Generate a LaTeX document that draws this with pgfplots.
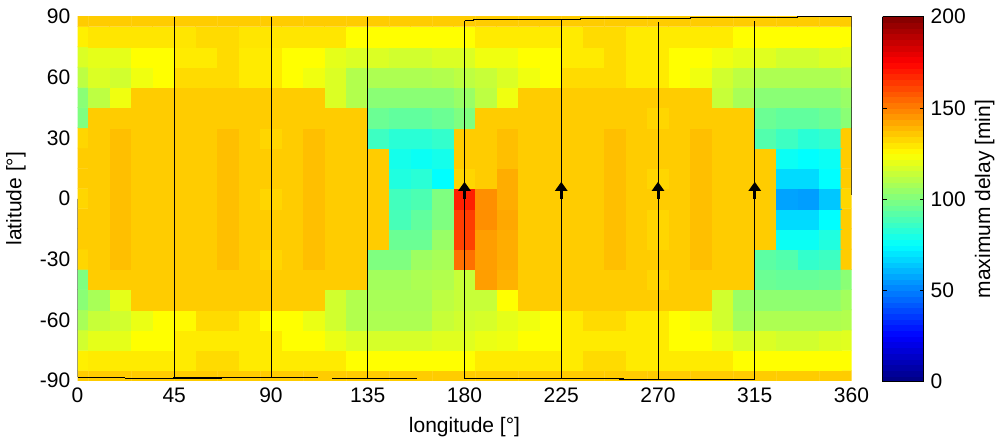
\documentclass[border=0pt]{standalone}
\usepackage{pgfplots}
\pgfplotsset{compat=1.18}
\usepackage{fontspec}
\setmainfont{Liberation Sans}
\usetikzlibrary{arrows.meta}
\begin{document}
\fontsize{21}{25}\selectfont
\begin{tikzpicture}
\useasboundingbox (0,0) rectangle (1003pt,439pt);
\begin{axis}[
 at={(77.5pt,58.4pt)}, anchor=south west,
 scale only axis, width=774pt, height=364pt,
 xmin=0, xmax=360, ymin=-90, ymax=90,
 y dir=normal,
 enlargelimits=false,
 axis line style={draw=none},
 tick style={draw=none},
 xtick={0,45,90,135,180,225,270,315,360}, xticklabels={0,45,90,135,180,225,270,315,360},
 ytick={-90,-60,-30,0,30,60,90}, yticklabels={-90,-60,-30,0,30,60,90},
 xlabel={longitude [°]}, ylabel={latitude [°]},
 colormap/jet, point meta min=0, point meta max=200,
 colorbar sampled,
 colorbar style={at={(parent axis.north east)}, anchor=north west, xshift=22.5pt,
   scale only axis, width=41pt, height=365pt, samples=65,
   xmin=0, xmax=1, enlargelimits=false, y dir=normal,
   ytick={0,50,100,150,200}, yticklabels={0,50,100,150,200},
   ylabel={maximum delay [min]}, ylabel shift=-5pt,
   axis line style={draw=black}, tick style={draw=black}, major tick length=4pt, tick align=inside},
]
\addplot[matrix plot*, mesh/cols=37, mesh/rows=19, point meta=explicit] table[row sep=\\, meta=c] {
x y c\\
0 -90 135\\10 -90 135\\20 -90 135\\30 -90 135\\40 -90 135\\50 -90 135\\60 -90 135\\70 -90 135\\80 -90 135\\90 -90 135\\100 -90 135\\110 -90 135\\120 -90 135\\130 -90 135\\140 -90 135\\150 -90 135\\160 -90 135\\170 -90 135\\180 -90 135\\190 -90 135\\200 -90 135\\210 -90 135\\220 -90 135\\230 -90 135\\240 -90 135\\250 -90 135\\260 -90 135\\270 -90 135\\280 -90 135\\290 -90 135\\300 -90 135\\310 -90 135\\320 -90 135\\330 -90 135\\340 -90 135\\350 -90 135\\360 -90 135\\
0 -80 128\\10 -80 129\\20 -80 129\\30 -80 129\\40 -80 129\\50 -80 129\\60 -80 132\\70 -80 132\\80 -80 129\\90 -80 129\\100 -80 129\\110 -80 129\\120 -80 129\\130 -80 125\\140 -80 125\\150 -80 125\\160 -80 125\\170 -80 125\\180 -80 125\\190 -80 129\\200 -80 129\\210 -80 129\\220 -80 129\\230 -80 129\\240 -80 132\\250 -80 132\\260 -80 129\\270 -80 129\\280 -80 129\\290 -80 129\\300 -80 129\\310 -80 125\\320 -80 125\\330 -80 125\\340 -80 125\\350 -80 125\\360 -80 125\\
0 -70 116\\10 -70 120\\20 -70 120\\30 -70 125\\40 -70 125\\50 -70 129\\60 -70 129\\70 -70 129\\80 -70 129\\90 -70 129\\100 -70 125\\110 -70 125\\120 -70 121\\130 -70 118\\140 -70 117\\150 -70 117\\160 -70 117\\170 -70 119\\180 -70 119\\190 -70 121\\200 -70 122\\210 -70 125\\220 -70 125\\230 -70 129\\240 -70 129\\250 -70 129\\260 -70 129\\270 -70 129\\280 -70 125\\290 -70 125\\300 -70 121\\310 -70 117\\320 -70 118\\330 -70 116\\340 -70 116\\350 -70 118\\360 -70 119\\
0 -60 108\\10 -60 114\\20 -60 116\\30 -60 121\\40 -60 125\\50 -60 126\\60 -60 132\\70 -60 132\\80 -60 129\\90 -60 125\\100 -60 125\\110 -60 121\\120 -60 116\\130 -60 110\\140 -60 109\\150 -60 109\\160 -60 109\\170 -60 114\\180 -60 116\\190 -60 117\\200 -60 120\\210 -60 122\\220 -60 125\\230 -60 129\\240 -60 132\\250 -60 132\\260 -60 129\\270 -60 129\\280 -60 125\\290 -60 122\\300 -60 116\\310 -60 107\\320 -60 109\\330 -60 109\\340 -60 109\\350 -60 109\\360 -60 110\\
0 -50 102\\10 -50 108\\20 -50 120\\30 -50 135\\40 -50 135\\50 -50 135\\60 -50 135\\70 -50 135\\80 -50 135\\90 -50 135\\100 -50 135\\110 -50 135\\120 -50 116\\130 -50 110\\140 -50 108\\150 -50 108\\160 -50 108\\170 -50 112\\180 -50 114\\190 -50 114\\200 -50 125\\210 -50 135\\220 -50 135\\230 -50 135\\240 -50 135\\250 -50 135\\260 -50 135\\270 -50 135\\280 -50 135\\290 -50 135\\300 -50 116\\310 -50 105\\320 -50 103\\330 -50 103\\340 -50 103\\350 -50 103\\360 -50 107\\
0 -40 100\\10 -40 135\\20 -40 135\\30 -40 135\\40 -40 135\\50 -40 135\\60 -40 135\\70 -40 135\\80 -40 135\\90 -40 135\\100 -40 135\\110 -40 135\\120 -40 135\\130 -40 135\\140 -40 107\\150 -40 107\\160 -40 109\\170 -40 110\\180 -40 114\\190 -40 144\\200 -40 140\\210 -40 135\\220 -40 135\\230 -40 135\\240 -40 135\\250 -40 135\\260 -40 135\\270 -40 133\\280 -40 135\\290 -40 135\\300 -40 135\\310 -40 135\\320 -40 96\\330 -40 95\\340 -40 95\\350 -40 96\\360 -40 102\\
0 -30 133\\10 -30 135\\20 -30 137.5\\30 -30 135\\40 -30 135\\50 -30 135\\60 -30 135\\70 -30 137.5\\80 -30 135\\90 -30 133\\100 -30 135\\110 -30 137.5\\120 -30 135\\130 -30 135\\140 -30 100\\150 -30 100\\160 -30 106\\170 -30 108\\180 -30 153\\190 -30 144\\200 -30 141\\210 -30 135\\220 -30 135\\230 -30 135\\240 -30 135\\250 -30 137.5\\260 -30 135\\270 -30 135\\280 -30 135\\290 -30 137.5\\300 -30 135\\310 -30 135\\320 -30 93\\330 -30 91\\340 -30 85\\350 -30 87\\360 -30 135\\
0 -20 135\\10 -20 135\\20 -20 137.5\\30 -20 135\\40 -20 135\\50 -20 135\\60 -20 135\\70 -20 137.5\\80 -20 135\\90 -20 135\\100 -20 135\\110 -20 137.5\\120 -20 135\\130 -20 135\\140 -20 135\\150 -20 96\\160 -20 96\\170 -20 105\\180 -20 162\\190 -20 144\\200 -20 141\\210 -20 135\\220 -20 135\\230 -20 135\\240 -20 135\\250 -20 137.5\\260 -20 135\\270 -20 133\\280 -20 135\\290 -20 137.5\\300 -20 135\\310 -20 135\\320 -20 135\\330 -20 77\\340 -20 77\\350 -20 81\\360 -20 135\\
0 -10 135\\10 -10 135\\20 -10 137.5\\30 -10 135\\40 -10 135\\50 -10 135\\60 -10 135\\70 -10 137.5\\80 -10 135\\90 -10 135\\100 -10 135\\110 -10 137.5\\120 -10 135\\130 -10 135\\140 -10 135\\150 -10 89\\160 -10 94\\170 -10 100\\180 -10 163\\190 -10 147\\200 -10 142\\210 -10 135\\220 -10 135\\230 -10 135\\240 -10 135\\250 -10 137.5\\260 -10 135\\270 -10 133\\280 -10 135\\290 -10 137.5\\300 -10 135\\310 -10 135\\320 -10 135\\330 -10 68\\340 -10 68\\350 -10 75\\360 -10 135\\
0 0 133\\10 0 135\\20 0 137.5\\30 0 135\\40 0 135\\50 0 135\\60 0 135\\70 0 137.5\\80 0 135\\90 0 133\\100 0 135\\110 0 137.5\\120 0 135\\130 0 135\\140 0 135\\150 0 88\\160 0 90\\170 0 100\\180 0 169\\190 0 147\\200 0 141\\210 0 135\\220 0 135\\230 0 135\\240 0 135\\250 0 137.5\\260 0 135\\270 0 135\\280 0 135\\290 0 137.5\\300 0 135\\310 0 135\\320 0 135\\330 0 57\\340 0 56\\350 0 64\\360 0 133\\
0 10 135\\10 10 135\\20 10 137.5\\30 10 135\\40 10 135\\50 10 135\\60 10 135\\70 10 137.5\\80 10 135\\90 10 135\\100 10 135\\110 10 137.5\\120 10 135\\130 10 135\\140 10 135\\150 10 81\\160 10 83\\170 10 75\\180 10 133\\190 10 135\\200 10 141\\210 10 135\\220 10 135\\230 10 135\\240 10 135\\250 10 137.5\\260 10 135\\270 10 133\\280 10 135\\290 10 137.5\\300 10 135\\310 10 135\\320 10 135\\330 10 68\\340 10 68\\350 10 75\\360 10 135\\
0 20 135\\10 20 135\\20 20 137.5\\30 20 135\\40 20 135\\50 20 135\\60 20 135\\70 20 137.5\\80 20 135\\90 20 135\\100 20 135\\110 20 137.5\\120 20 135\\130 20 135\\140 20 135\\150 20 79\\160 20 77\\170 20 79\\180 20 135\\190 20 135\\200 20 137.5\\210 20 135\\220 20 135\\230 20 135\\240 20 135\\250 20 137.5\\260 20 135\\270 20 135\\280 20 135\\290 20 137.5\\300 20 135\\310 20 135\\320 20 135\\330 20 77\\340 20 75\\350 20 77\\360 20 135\\
0 30 133\\10 30 135\\20 30 137.5\\30 30 135\\40 30 135\\50 30 135\\60 30 135\\70 30 137.5\\80 30 135\\90 30 133\\100 30 135\\110 30 137.5\\120 30 135\\130 30 135\\140 30 87\\150 30 83\\160 30 83\\170 30 85\\180 30 135\\190 30 135\\200 30 137.5\\210 30 135\\220 30 135\\230 30 135\\240 30 135\\250 30 137.5\\260 30 135\\270 30 135\\280 30 135\\290 30 137.5\\300 30 135\\310 30 135\\320 30 91\\330 30 87\\340 30 83\\350 30 85\\360 30 135\\
0 40 100\\10 40 135\\20 40 135\\30 40 135\\40 40 135\\50 40 135\\60 40 135\\70 40 135\\80 40 135\\90 40 135\\100 40 135\\110 40 135\\120 40 135\\130 40 135\\140 40 96\\150 40 94\\160 40 94\\170 40 96\\180 40 100\\190 40 135\\200 40 135\\210 40 135\\220 40 135\\230 40 135\\240 40 135\\250 40 135\\260 40 135\\270 40 133\\280 40 135\\290 40 135\\300 40 135\\310 40 135\\320 40 96\\330 40 94\\340 40 94\\350 40 96\\360 40 102\\
0 50 102\\10 50 112\\20 50 122\\30 50 135\\40 50 135\\50 50 135\\60 50 135\\70 50 135\\80 50 135\\90 50 135\\100 50 135\\110 50 135\\120 50 118\\130 50 110\\140 50 102\\150 50 102\\160 50 102\\170 50 102\\180 50 105\\190 50 112\\200 50 122\\210 50 135\\220 50 135\\230 50 135\\240 50 135\\250 50 135\\260 50 135\\270 50 135\\280 50 135\\290 50 135\\300 50 114\\310 50 108\\320 50 102\\330 50 102\\340 50 102\\350 50 102\\360 50 105\\
0 60 112\\10 60 118\\20 60 116\\30 60 122\\40 60 125\\50 60 132\\60 60 132\\70 60 132\\80 60 129\\90 60 129\\100 60 125\\110 60 122\\120 60 118\\130 60 110\\140 60 109\\150 60 109\\160 60 109\\170 60 110\\180 60 112\\190 60 114\\200 60 118\\210 60 122\\220 60 125\\230 60 132\\240 60 132\\250 60 132\\260 60 129\\270 60 129\\280 60 125\\290 60 122\\300 60 116\\310 60 112\\320 60 109\\330 60 109\\340 60 109\\350 60 109\\360 60 111\\
0 70 118\\10 70 120\\20 70 120\\30 70 125\\40 70 125\\50 70 129\\60 70 129\\70 70 132\\80 70 129\\90 70 129\\100 70 125\\110 70 125\\120 70 120\\130 70 118\\140 70 118\\150 70 116\\160 70 116\\170 70 118\\180 70 118\\190 70 122\\200 70 122\\210 70 125\\220 70 125\\230 70 129\\240 70 129\\250 70 132\\260 70 129\\270 70 129\\280 70 125\\290 70 125\\300 70 122\\310 70 120\\320 70 119\\330 70 116\\340 70 116\\350 70 118\\360 70 119\\
0 80 128\\10 80 130\\20 80 130\\30 80 130\\40 80 130\\50 80 130\\60 80 132\\70 80 132\\80 80 130\\90 80 130\\100 80 130\\110 80 130\\120 80 130\\130 80 125\\140 80 125\\150 80 125\\160 80 125\\170 80 125\\180 80 125\\190 80 129\\200 80 129\\210 80 129\\220 80 129\\230 80 129\\240 80 132\\250 80 132\\260 80 129\\270 80 129\\280 80 129\\290 80 129\\300 80 129\\310 80 125\\320 80 125\\330 80 125\\340 80 125\\350 80 125\\360 80 125\\
0 90 135\\10 90 135\\20 90 135\\30 90 135\\40 90 135\\50 90 135\\60 90 135\\70 90 135\\80 90 135\\90 90 135\\100 90 135\\110 90 135\\120 90 135\\130 90 135\\140 90 135\\150 90 135\\160 90 135\\170 90 135\\180 90 135\\190 90 135\\200 90 135\\210 90 135\\220 90 135\\230 90 135\\240 90 135\\250 90 135\\260 90 135\\270 90 135\\280 90 135\\290 90 135\\300 90 135\\310 90 135\\320 90 135\\330 90 135\\340 90 135\\350 90 135\\360 90 135\\
};
% ground tracks
\addplot[black, line width=0.9pt, mark=none] coordinates {(45,90) (45,-88.6)};
\addplot[black, line width=0.9pt, mark=none] coordinates {(90,90) (90,-88.3)};
\addplot[black, line width=0.9pt, mark=none] coordinates {(135,90) (135,-88.8)};
\addplot[black, line width=0.9pt, mark=none] coordinates {(180,87.9) (180,-89.1)};
\addplot[black, line width=0.9pt, mark=none] coordinates {(225,88.4) (225,-89.1)};
\addplot[black, line width=0.9pt, mark=none] coordinates {(270,87.4) (270,-89.4)};
\addplot[black, line width=0.9pt, mark=none] coordinates {(315,87.9) (315,-89.4)};
\addplot[black, line width=0.9pt, mark=none] coordinates {(360,89.9) (360,1.7)};
\addplot[black, line width=0.9pt, mark=none] coordinates {(0,0) (0,-88.3)};
\addplot[black, line width=0.9pt, mark=none] coordinates {(180,87.9) (184,87.9) (184,88.4) (234,88.4) (234,88.9) (285,88.9) (285,89.4) (335,89.4) (335,89.9) (360,89.9)};
\addplot[black, line width=0.9pt, mark=none] coordinates {(0,-88.3) (22,-88.3)};
\addplot[black, line width=0.9pt, mark=none] coordinates {(22,-89.1) (67,-89.1)};
\addplot[black, line width=0.9pt, mark=none] coordinates {(44.5,-88.6) (89.7,-88.6)};
\addplot[black, line width=0.9pt, mark=none] coordinates {(89.7,-88.3) (112,-88.3)};
\addplot[black, line width=0.9pt, mark=none] coordinates {(118.5,-89.1) (158,-89.1)};
\addplot[black, line width=0.9pt, mark=none] coordinates {(180,-89.1) (254,-89.1)};
\addplot[black, line width=0.9pt, mark=none] coordinates {(252,-89.4) (315,-89.4)};
% direction arrows
\addplot[black, line width=3pt, mark=none, -{Triangle[width=12pt,length=9pt]}] coordinates {(180,0) (180,8.3)};
\addplot[black, line width=3pt, mark=none, -{Triangle[width=12pt,length=9pt]}] coordinates {(225,0) (225,8.3)};
\addplot[black, line width=3pt, mark=none, -{Triangle[width=12pt,length=9pt]}] coordinates {(270,0) (270,8.3)};
\addplot[black, line width=3pt, mark=none, -{Triangle[width=12pt,length=9pt]}] coordinates {(315,0) (315,8.3)};
\end{axis}
\end{tikzpicture}
\end{document}
